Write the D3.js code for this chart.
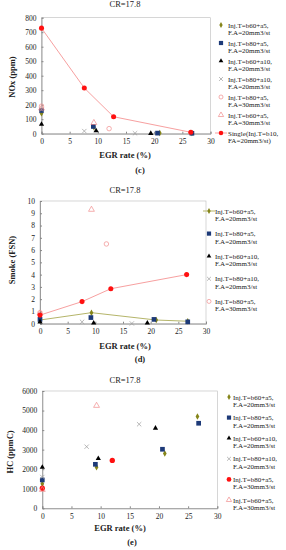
<!DOCTYPE html>
<html>
<head>
<meta charset="utf-8">
<title>CR=17.8 NOx / Smoke / HC vs EGR</title>
<script src="https://cdnjs.cloudflare.com/ajax/libs/d3/7.8.5/d3.min.js"></script>
<style>
  body { margin: 0; background: #fff; }
  svg text { font-family: "Liberation Serif", "Times New Roman", serif; fill: #222; }
</style>
</head>
<body>
<svg id="svg" width="286" height="550"></svg>
<script>
// ---- data (EGR rate %, value) ----
const seriesNames = ['b60a5_20', 'b80a5_20', 'b60a10_20', 'b80a10_20', 'b80a5_30', 'b60a5_30', 'single']

const noxX = {
  b60a5_20: [0, 9.3, 21, 26.7],
  b80a5_20: [0, 9.2, 20.6, 26.7],
  b60a10_20: [0, 9.7, 19.4],
  b80a10_20: [0, 7.6, 16.6],
  b80a5_30: [0, 12],
  b60a5_30: [0, 9.3],
  single: [0, 7.6, 12.8, 26.5]
}
const noxY = {
  b60a5_20: [140, 45, 5, 5],
  b80a5_20: [160, 50, 4, 3],
  b60a10_20: [65, 20, 2],
  b80a10_20: [165, 18, 3],
  b80a5_30: [190, 35],
  b60a5_30: [175, 75],
  single: [728, 315, 117, 10]
}

const smokeX = {
  b60a5_20: [0, 9.3, 21, 26.7],
  b80a5_20: [0, 9.2, 20.6, 26.7],
  b60a10_20: [0, 9.7, 19.4],
  b80a10_20: [7.6, 16.6],
  b80a5_30: [0, 12],
  b60a5_30: [0, 9.3],
  single: [0, 7.6, 12.8, 26.5]
}
const smokeY = {
  b60a5_20: [0.3, 0.9, 0.3, 0.2],
  b80a5_20: [0.35, 0.5, 0.35, 0.15],
  b60a10_20: [0.15, 0.05, 0.05],
  b80a10_20: [0.15, 0.02],
  b80a5_30: [0.9, 6.5],
  b60a5_30: [0.85, 9.3],
  single: [0.7, 1.8, 2.85, 4.0]
}

const hcX = {
  b60a5_20: [0, 9.3, 21, 26.6],
  b80a5_20: [0, 9.1, 20.6, 26.8],
  b60a10_20: [0, 9.6, 19.4],
  b80a10_20: [0, 7.6, 16.6],
  b80a5_30: [0, 12],
  b60a5_30: [0, 9.3]
}
const hcY = {
  b60a5_20: [1250, 2100, 2800, 4700],
  b80a5_20: [1450, 2250, 3020, 4350],
  b60a10_20: [2100, 2550, 4100],
  b80a10_20: [1600, 3150, 4300],
  b80a5_30: [1030, 2450],
  b60a5_30: [950, 5250]
}

const legendLabels = {
  b60a5_20: ['Inj.T=b60+a5,', 'F.A=20mm3/st'],
  b80a5_20: ['Inj.T=b80+a5,', 'F.A=20mm3/st'],
  b60a10_20: ['Inj.T=b60+a10,', 'F.A=20mm3/st'],
  b80a10_20: ['Inj.T=b80+a10,', 'F.A=20mm3/st'],
  b80a5_30: ['Inj.T=b80+a5,', 'F.A=30mm3/st'],
  b60a5_30: ['Inj.T=b60+a5,', 'F.A=30mm3/st'],
  single: ['Single(Inj.T=b10,', 'FA=20mm3/st)']
}

const xTicks = [0, 5, 10, 15, 20, 25, 30]
const noxTicks = [0, 100, 200, 300, 400, 500, 600, 700, 800]
const smokeTicks = [0, 1, 2, 3, 4, 5, 6, 7, 8, 9, 10]
const hcTicks = [0, 1000, 2000, 3000, 4000, 5000, 6000]

// marker styles
const olive = '#85851a', navy = '#1d3a78', pink = '#f08c8c', red = '#ff1010'
function markStyle(name, panel) {
  if (name == 'b60a5_20') return {sym: d3.symbolDiamond, size: 12, fill: olive, stroke: 'none'}
  if (name == 'b80a5_20') return {sym: d3.symbolSquare, size: 22, fill: navy, stroke: 'none'}
  if (name == 'b60a10_20') return {sym: d3.symbolTriangle, size: 12, fill: '#000', stroke: 'none'}
  if (name == 'b80a10_20') return {sym: d3.symbolX, size: 14, fill: 'none', stroke: '#999', sw: 0.7}
  if (name == 'b80a5_30') {
    if (panel == 'hc') return {sym: d3.symbolCircle, size: 22, fill: red, stroke: 'none'}
    return {sym: d3.symbolCircle, size: 16, fill: 'none', stroke: pink, sw: 0.7}
  }
  if (name == 'b60a5_30') return {sym: d3.symbolTriangle, size: 15, fill: 'none', stroke: pink, sw: 0.7}
  if (name == 'single') return {sym: d3.symbolCircle, size: 20, fill: red, stroke: 'none'}
}

const svg = d3.select('#svg')

function drawPanel(p) {
  const x = d3.scaleLinear().domain([0, 30]).range([p.x0, p.x1])
  const y = d3.scaleLinear().domain([0, p.yMax]).range([p.y0, p.y1])
  const g = svg.append('g')

  // plot box
  g.append('rect')
    .attr('x', p.x0).attr('y', p.y1)
    .attr('width', p.x1 - p.x0).attr('height', p.y0 - p.y1)
    .attr('fill', 'none').attr('stroke', '#bbb').attr('stroke-width', 0.6)

  const xa = g.append('g').attr('transform', `translate(0,${p.y0})`)
    .call(d3.axisBottom(x).tickValues(xTicks).tickSize(-2).tickPadding(5).tickFormat(d3.format('d')))
  const ya = g.append('g').attr('transform', `translate(${p.x0},0)`)
    .call(d3.axisLeft(y).tickValues(p.ticks).tickSize(-2).tickPadding(5).tickFormat(d3.format('d')))
  for (const a of [xa, ya]) {
    a.select('.domain').attr('stroke', '#888').attr('stroke-width', 0.8)
    a.selectAll('.tick line').attr('stroke', '#888')
    a.selectAll('.tick text').attr('font-size', 7.5).attr('fill', '#222')
      .attr('font-family', '"Liberation Serif", serif')
  }

  // title and labels
  g.append('text').attr('x', 125).attr('y', p.titleY).attr('text-anchor', 'middle')
    .attr('font-size', 8.5).text('CR=17.8')
  g.append('text').attr('x', p.xLabX).attr('y', p.xLabY).attr('text-anchor', 'middle')
    .attr('font-size', 8.5).attr('font-weight', 'bold').text('EGR rate (%)')
  g.append('text').attr('transform', `translate(${p.yLabX},${p.yLabY}) rotate(-90)`)
    .attr('text-anchor', 'middle').attr('font-size', 8.5).attr('font-weight', 'bold').text(p.yLabel)
  g.append('text').attr('x', p.capX).attr('y', p.capY).attr('text-anchor', 'middle')
    .attr('font-size', 8.5).attr('font-weight', 'bold').text(p.caption)

  // lines
  const line = d3.line().x(d => x(d[0])).y(d => y(d[1]))
  for (const ln of p.lines) {
    const pts = p.xs[ln.name].map((v, i) => [v, p.ys[ln.name][i]])
    g.append('path').attr('d', line(pts)).attr('fill', 'none')
      .attr('stroke', ln.color).attr('stroke-width', 1)
  }

  // markers
  for (const name of seriesNames) {
    if (!p.xs[name]) continue
    const st = markStyle(name, p.id)
    const pts = p.xs[name].map((v, i) => [v, p.ys[name][i]])
    g.selectAll(null).data(pts).enter().append('path')
      .attr('transform', d => `translate(${x(d[0])},${y(d[1])})`)
      .attr('d', d3.symbol().type(st.sym).size(st.size))
      .attr('fill', st.fill).attr('stroke', st.stroke).attr('stroke-width', st.sw || 0)
  }

  // legend
  p.legend.forEach((name, i) => {
    const ly = p.legY + i * p.legStep
    const st = markStyle(name, p.id)
    const ln = p.lines.find(l => l.name == name)
    if (ln && p.legLine) {
      g.append('line').attr('x1', p.legMX - 6).attr('x2', p.legMX + 6)
        .attr('y1', ly).attr('y2', ly).attr('stroke', ln.color).attr('stroke-width', 1)
    }
    g.append('path').attr('transform', `translate(${p.legMX},${ly})`)
      .attr('d', d3.symbol().type(st.sym).size(st.size * 0.8))
      .attr('fill', st.fill).attr('stroke', st.stroke).attr('stroke-width', st.sw || 0)
    const t = g.append('text').attr('x', p.legTX).attr('y', ly + 2.5).attr('font-size', 7)
    t.append('tspan').attr('x', p.legTX).text(legendLabels[name][0])
    t.append('tspan').attr('x', p.legTX).attr('dy', 7.4).text(legendLabels[name][1])
  })
}

drawPanel({
  id: 'nox', x0: 41.5, x1: 210.5, y0: 133.7, y1: 17.7, yMax: 800, ticks: noxTicks,
  xs: noxX, ys: noxY, titleY: 7, xLabX: 125, xLabY: 158, yLabX: 15, yLabY: 77,
  yLabel: 'NOx (ppm)', capX: 140, capY: 173, caption: '(c)',
  lines: [{name: 'single', color: '#f7a0a0'}], legLine: true,
  legend: seriesNames, legY: 25, legStep: 18, legMX: 221, legTX: 228
})

drawPanel({
  id: 'smoke', x0: 40, x1: 206, y0: 323.7, y1: 201, yMax: 10, ticks: smokeTicks,
  xs: smokeX, ys: smokeY, titleY: 193, xLabX: 125, xLabY: 349, yLabX: 15, yLabY: 260,
  yLabel: 'Smoke (FSN)', capX: 140, capY: 362, caption: '(d)',
  lines: [{name: 'single', color: '#f7a0a0'}, {name: 'b60a5_20', color: '#b5b56a'}], legLine: true,
  legend: ['b60a5_20', 'b80a5_20', 'b60a10_20', 'b80a10_20', 'b80a5_30'],
  legY: 211, legStep: 22.6, legMX: 209, legTX: 215
})

drawPanel({
  id: 'hc', x0: 42.3, x1: 217.3, y0: 508.3, y1: 391, yMax: 6000, ticks: hcTicks,
  xs: hcX, ys: hcY, titleY: 383, xLabX: 120, xLabY: 531, yLabX: 13, yLabY: 452,
  yLabel: 'HC (ppmC)', capX: 132, capY: 545, caption: '(e)',
  lines: [], legLine: false,
  legend: ['b60a5_20', 'b80a5_20', 'b60a10_20', 'b80a10_20', 'b80a5_30', 'b60a5_30'],
  legY: 397, legStep: 20.6, legMX: 229, legTX: 233
})
</script>
</body>
</html>
